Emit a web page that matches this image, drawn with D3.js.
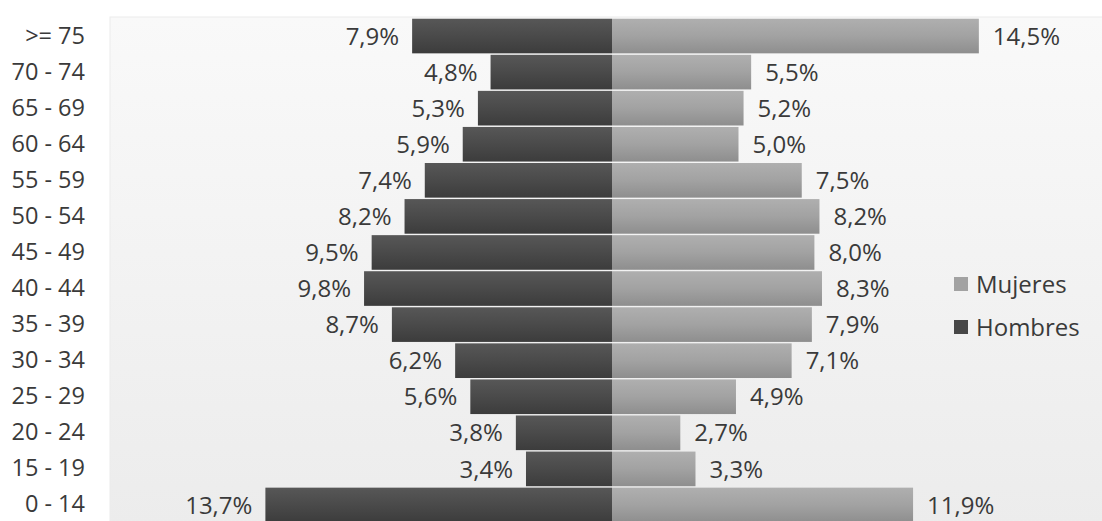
<!DOCTYPE html>
<html>
<head>
<meta charset="utf-8">
<script src="https://cdn.jsdelivr.net/npm/d3@7"></script>
<style>
  html, body { margin: 0; padding: 0; background: #ffffff; }
  svg { display: block; }
  text { font-family: "Open Sans", "Noto Sans", sans-serif; }
</style>
</head>
<body>
<svg id="chart" width="1102" height="521"></svg>
<script>
const categories = [">= 75", "70 - 74", "65 - 69", "60 - 64", "55 - 59", "50 - 54", "45 - 49",
                    "40 - 44", "35 - 39", "30 - 34", "25 - 29", "20 - 24", "15 - 19", "0 - 14"];
const hombres = [7.9, 4.8, 5.3, 5.9, 7.4, 8.2, 9.5, 9.8, 8.7, 6.2, 5.6, 3.8, 3.4, 13.7];
const mujeres = [14.5, 5.5, 5.2, 5.0, 7.5, 8.2, 8.0, 8.3, 7.9, 7.1, 4.9, 2.7, 3.3, 11.9];
const seriesNames = ["Mujeres", "Hombres"];

const fmt = v => v.toFixed(1).replace(".", ",") + "%";

const svg = d3.select("#chart");
const plot = { left: 110, top: 17, right: 1102, bottom: 523 };
const center = 612;
const textColor = "#3a3a3a";

const defs = svg.append("defs");
const bg = defs.append("linearGradient").attr("id", "bg").attr("x1", 0).attr("y1", 0).attr("x2", 0).attr("y2", 1);
bg.append("stop").attr("offset", "0%").attr("stop-color", "#f9f9f9");
bg.append("stop").attr("offset", "100%").attr("stop-color", "#ececec");

const gw = defs.append("linearGradient").attr("id", "gw").attr("x1", 0).attr("y1", 0).attr("x2", 0).attr("y2", 1);
gw.append("stop").attr("offset", "0%").attr("stop-color", "#afafaf");
gw.append("stop").attr("offset", "50%").attr("stop-color", "#a2a2a2");
gw.append("stop").attr("offset", "100%").attr("stop-color", "#8e8e8e");

const gm = defs.append("linearGradient").attr("id", "gm").attr("x1", 0).attr("y1", 0).attr("x2", 0).attr("y2", 1);
gm.append("stop").attr("offset", "0%").attr("stop-color", "#575757");
gm.append("stop").attr("offset", "50%").attr("stop-color", "#4a4a4a");
gm.append("stop").attr("offset", "100%").attr("stop-color", "#3c3c3c");

// plot background
svg.append("rect")
  .attr("x", plot.left).attr("y", plot.top)
  .attr("width", plot.right - plot.left + 2).attr("height", plot.bottom - plot.top + 2)
  .attr("fill", "url(#bg)").attr("stroke", "#ececec").attr("stroke-width", 1);

const y = d3.scaleBand().domain(categories).range([18, 523]).paddingInner(0.04).paddingOuter(0.02);
const xw = d3.scaleLinear().domain([0, 20]).range([center, center + 506]);
const xm = d3.scaleLinear().domain([0, 20]).range([center, center - 506]);

const g = svg.append("g");

// Hombres bars (left)
g.selectAll("rect.m").data(categories).join("rect")
  .attr("class", "m")
  .attr("x", (d, i) => xm(hombres[i]))
  .attr("y", d => y(d))
  .attr("width", (d, i) => xm(0) - xm(hombres[i]))
  .attr("height", y.bandwidth())
  .attr("fill", "url(#gm)");

// Mujeres bars (right)
g.selectAll("rect.w").data(categories).join("rect")
  .attr("class", "w")
  .attr("x", xw(0))
  .attr("y", d => y(d))
  .attr("width", (d, i) => xw(mujeres[i]) - xw(0))
  .attr("height", y.bandwidth())
  .attr("fill", "url(#gw)");

// value labels
g.selectAll("text.lm").data(categories).join("text")
  .attr("class", "lm")
  .attr("x", (d, i) => xm(hombres[i]) - 13)
  .attr("y", d => y(d) + y.bandwidth() / 2)
  .attr("dy", "0.36em")
  .attr("text-anchor", "end")
  .attr("font-size", 24)
  .attr("fill", textColor)
  .text((d, i) => fmt(hombres[i]));

g.selectAll("text.lw").data(categories).join("text")
  .attr("class", "lw")
  .attr("x", (d, i) => xw(mujeres[i]) + 14)
  .attr("y", d => y(d) + y.bandwidth() / 2)
  .attr("dy", "0.36em")
  .attr("text-anchor", "start")
  .attr("font-size", 24)
  .attr("fill", textColor)
  .text((d, i) => fmt(mujeres[i]));

// category axis
const axis = d3.axisLeft(y).tickSize(0).tickPadding(0);
const ax = svg.append("g").attr("transform", "translate(85,0)").call(axis);
ax.select(".domain").remove();
ax.selectAll("text")
  .attr("font-size", 23.5)
  .attr("fill", textColor)
  .style("font-family", "'Open Sans', 'Noto Sans', sans-serif");

// legend
const legColors = ["#a2a2a2", "#474747"];
const leg = svg.append("g");
seriesNames.forEach((name, i) => {
  const cy = 284 + i * 43;
  leg.append("rect").attr("x", 954).attr("y", cy - 7).attr("width", 14).attr("height", 14).attr("fill", legColors[i]);
  leg.append("text").attr("x", 976).attr("y", cy).attr("dy", "0.36em")
    .attr("font-size", 24).attr("fill", textColor).text(name);
});
</script>
</body>
</html>
